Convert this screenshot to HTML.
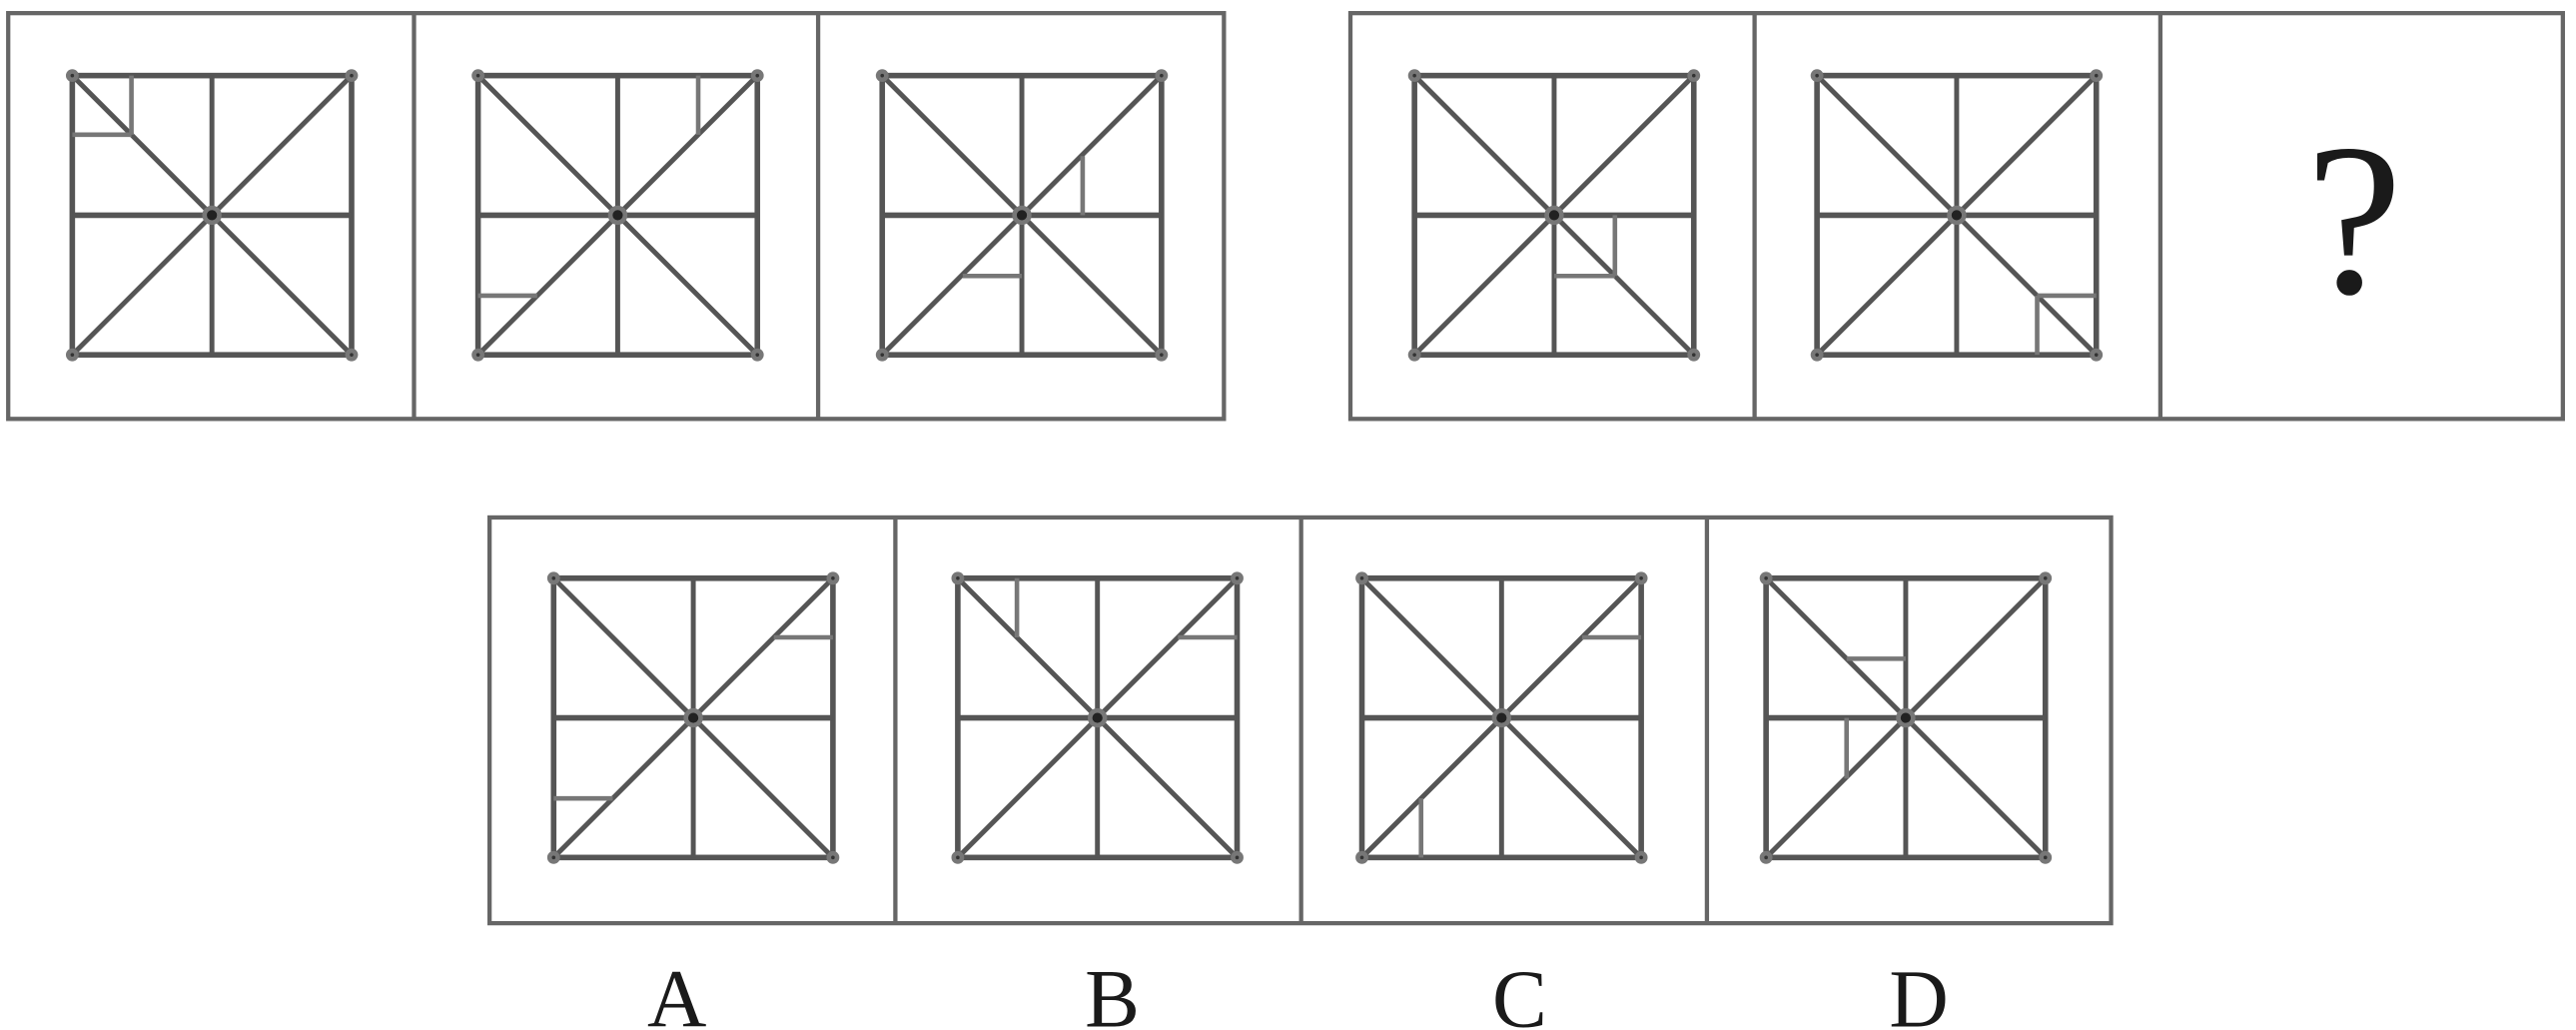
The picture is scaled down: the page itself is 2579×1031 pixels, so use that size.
<!DOCTYPE html>
<html><head><meta charset="utf-8"><style>html,body{margin:0;padding:0;background:#fff}svg{display:block}</style></head>
<body>
<svg width="2579" height="1031" viewBox="0 0 1568 627" preserveAspectRatio="none" xmlns="http://www.w3.org/2000/svg">
<defs>
<g id="f">
<rect x="0" y="0" width="170" height="170" fill="none" stroke="#555" stroke-width="3.4"/>
<line x1="85" y1="0" x2="85" y2="170" stroke="#555" stroke-width="3"/>
<line x1="0" y1="85" x2="170" y2="85" stroke="#555" stroke-width="3.4"/>
<line x1="0" y1="0" x2="170" y2="170" stroke="#555" stroke-width="3"/>
<line x1="170" y1="0" x2="0" y2="170" stroke="#555" stroke-width="3"/>
<circle cx="85" cy="85" r="4.5" fill="#222"/>
<circle cx="0" cy="0" r="2.5" fill="#333"/><circle cx="170" cy="0" r="2.5" fill="#333"/>
<circle cx="0" cy="170" r="2.5" fill="#333"/><circle cx="170" cy="170" r="2.5" fill="#333"/>
</g>
</defs>
<g fill="none" stroke="#666" stroke-width="2.6">
<rect x="5" y="8" width="740" height="247"/>
<line x1="252" y1="8" x2="252" y2="255"/><line x1="498" y1="8" x2="498" y2="255"/>
<rect x="822" y="8" width="738" height="247"/>
<line x1="1068" y1="8" x2="1068" y2="255"/><line x1="1315" y1="8" x2="1315" y2="255"/>
<rect x="298" y="315" width="987" height="247"/>
<line x1="545" y1="315" x2="545" y2="562"/><line x1="792" y1="315" x2="792" y2="562"/><line x1="1039" y1="315" x2="1039" y2="562"/>
</g>
<g stroke="#777" stroke-width="2.8" fill="none">
<g transform="translate(44,46)"><use href="#f"/><path d="M36 0V36M0 36H36"/></g>
<g transform="translate(291,46)"><use href="#f"/><path d="M134 0V36M0 134H36"/></g>
<g transform="translate(537,46)"><use href="#f"/><path d="M122 49V85M49 122H85"/></g>
<g transform="translate(861,46)"><use href="#f"/><path d="M122 85V122M85 122H122"/></g>
<g transform="translate(1106,46)"><use href="#f"/><path d="M134 134H170M134 134V170"/></g>
<g transform="translate(337,352)"><use href="#f"/><path d="M134 36H170M0 134H36"/></g>
<g transform="translate(583,352)"><use href="#f"/><path d="M36 0V36M134 36H170"/></g>
<g transform="translate(829,352)"><use href="#f"/><path d="M134 36H170M36 134V170"/></g>
<g transform="translate(1075,352)"><use href="#f"/><path d="M49 49H85M49 85V122"/></g>
</g>
<text x="1433" y="178" text-anchor="middle" font-family="Liberation Serif, serif" font-size="132" fill="#1a1a1a">?</text>
<g font-family="Liberation Serif, serif" font-size="50" fill="#1a1a1a" text-anchor="middle">
<text x="412" y="625">A</text><text x="677" y="625">B</text><text x="925" y="625">C</text><text x="1168" y="625">D</text>
</g>
</svg>
</body></html>
